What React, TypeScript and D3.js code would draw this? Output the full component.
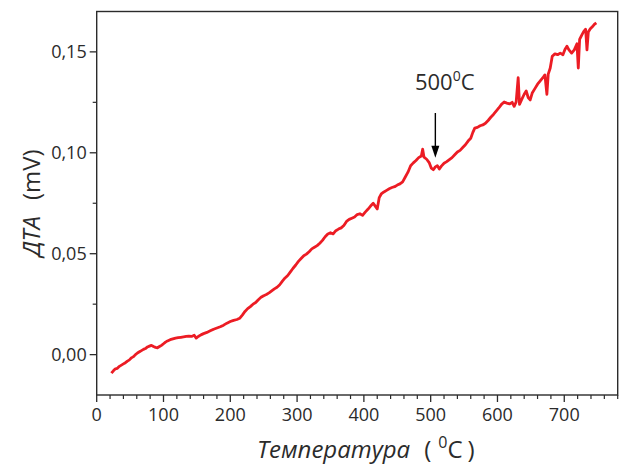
import React from "react";
import * as d3 from "d3";

// DTA curve
const temps = [
  22, 25, 28, 31, 34, 37, 40, 43, 46, 49, 52, 55, 58, 61, 64, 67, 70, 73, 76, 79,
  82, 85, 88, 91, 94, 97, 100, 103, 106, 110, 114, 118, 122, 126, 130, 134, 138, 142, 146, 149,
  152, 156, 160, 165, 170, 175, 180, 185, 190, 195, 200, 205, 210, 214, 218, 222, 226, 230, 234, 238,
  242, 246, 250, 254, 258, 262, 266, 270, 274, 278, 282, 286, 290, 294, 298, 302, 306, 310, 314, 318,
  322, 326, 330, 334, 338, 342, 346, 350, 354, 358, 362, 366, 370, 374, 378, 382, 386, 390, 394, 398,
  402, 406, 410, 414, 417, 420, 423, 426, 430, 434, 438, 442, 446, 450, 454, 458, 462, 466, 470, 474,
  478, 482, 486, 488, 490, 494, 498, 501, 504, 507, 510, 513, 516, 520, 524, 528, 532, 536, 540, 544,
  548, 552, 556, 560, 563, 566, 570, 574, 578, 582, 586, 590, 594, 598, 602, 606, 610, 614, 618, 622,
  625, 628, 631, 633, 636, 640, 643, 646, 649, 652, 656, 660, 664, 668, 671, 674, 676, 679, 682, 686,
  690, 694, 698, 701, 704, 707, 711, 715, 719, 721, 723, 726, 729, 732, 734, 736, 739, 742, 745, 748,
];
const dta = [
  -0.0092, -0.008, -0.007, -0.0068, -0.0058, -0.0052, -0.0046, -0.004, -0.0032, -0.0026,
  -0.0016, -0.001, 0.0, 0.0008, 0.0014, 0.002, 0.0026, 0.003, 0.0038, 0.0042,
  0.0046, 0.004, 0.0036, 0.0034, 0.004, 0.0046, 0.0054, 0.0062, 0.0068, 0.0074,
  0.0078, 0.0082, 0.0084, 0.0086, 0.0088, 0.009, 0.0092, 0.009, 0.0096, 0.0082,
  0.009, 0.0098, 0.0104, 0.011, 0.0118, 0.0126, 0.0132, 0.0138, 0.0146, 0.0156,
  0.0164, 0.017, 0.0174, 0.018, 0.0196, 0.0214, 0.0228, 0.0238, 0.025, 0.0258,
  0.0272, 0.0284, 0.0292, 0.0298, 0.0306, 0.0316, 0.0326, 0.0334, 0.0346, 0.0364,
  0.038, 0.0392, 0.041, 0.0428, 0.0444, 0.0462, 0.0476, 0.049, 0.0498, 0.051,
  0.0524, 0.0532, 0.054, 0.0552, 0.0566, 0.0584, 0.0598, 0.0604, 0.0598, 0.0614,
  0.0622, 0.0628, 0.064, 0.066, 0.067, 0.0676, 0.0682, 0.0694, 0.0698, 0.069,
  0.0706, 0.072, 0.0736, 0.075, 0.0736, 0.0722, 0.0778, 0.0796, 0.0806, 0.0814,
  0.0822, 0.0828, 0.0832, 0.084, 0.0846, 0.0856, 0.088, 0.0904, 0.0936, 0.095,
  0.0962, 0.0976, 0.0984, 0.1018, 0.0978, 0.0968, 0.095, 0.0924, 0.0916, 0.093,
  0.0936, 0.092, 0.0934, 0.0948, 0.0956, 0.0966, 0.0976, 0.099, 0.1004, 0.1012,
  0.1026, 0.104, 0.1058, 0.1072, 0.11, 0.1122, 0.1126, 0.1134, 0.1138, 0.1146,
  0.116, 0.1176, 0.119, 0.1206, 0.1222, 0.124, 0.1252, 0.1246, 0.1242, 0.125,
  0.123, 0.1252, 0.1372, 0.124, 0.1262, 0.129, 0.1306, 0.1274, 0.1262, 0.1296,
  0.1318, 0.134, 0.1356, 0.1372, 0.1386, 0.129, 0.139, 0.142, 0.1478, 0.149,
  0.1486, 0.1494, 0.1486, 0.1512, 0.1528, 0.151, 0.1494, 0.151, 0.154, 0.142,
  0.1562, 0.1582, 0.16, 0.1612, 0.151, 0.1598, 0.1614, 0.1624, 0.1636, 0.1644,
];

const xTicks = [0, 100, 200, 300, 400, 500, 600, 700];
const yTicks = [0, 0.05, 0.1, 0.15];
const peakTemp = 507;

const W = 625;
const H = 465;
const left = 96.7;
const right = 617.7;
const top = 11.5;
const bottom = 395;
const ink = "#2b2b2b";
const font = "'Open Sans', 'Noto Sans', sans-serif";

export default function App() {
  const x = d3.scaleLinear().domain([0, 780]).range([left, right]);
  const y = d3.scaleLinear().domain([-0.02, 0.17]).range([bottom, top]);

  const points = temps.map((t, i) => [t, dta[i]] as [number, number]);
  const line = d3
    .line<[number, number]>()
    .x((d) => x(d[0]))
    .y((d) => y(d[1]));

  const fmt = (v: number) => d3.format(".2f")(v).replace(".", ",");
  const xMinor = d3.range(0, 781, 20).filter((v) => v % 100 !== 0);
  const yMinor = [0.025, 0.075, 0.125];

  const ax = x(peakTemp);
  const a1 = y(0.1197);
  const a2 = y(0.0975);

  return (
    <svg
      width={W}
      height={H}
      style={{ position: "absolute", left: 0, top: 0, background: "#fff" }}
      fontFamily={font}
    >
      <path d={line(points) ?? ""} fill="none" stroke="#ec1c24" strokeWidth={2.8} strokeLinejoin="round" />

      {/* frame */}
      <rect x={left} y={top} width={right - left} height={bottom - top} fill="none" stroke={ink} strokeWidth={1.4} />

      {/* x ticks */}
      {xTicks.map((t) => (
        <g key={"x" + t}>
          <line x1={x(t)} x2={x(t)} y1={bottom} y2={bottom + 7} stroke={ink} strokeWidth={1.3} />
          <text x={x(t)} y={bottom + 26} fontSize={18} textAnchor="middle" fill={ink}>
            {t}
          </text>
        </g>
      ))}
      {xMinor.map((t) => (
        <line key={"xm" + t} x1={x(t)} x2={x(t)} y1={bottom} y2={bottom + 4} stroke={ink} strokeWidth={1.2} />
      ))}

      {/* y ticks */}
      {yTicks.map((t) => (
        <g key={"y" + t}>
          <line x1={left - 7} x2={left} y1={y(t)} y2={y(t)} stroke={ink} strokeWidth={1.3} />
          <text x={left - 10} y={y(t) + 6} fontSize={18} textAnchor="end" fill={ink}>
            {fmt(t)}
          </text>
        </g>
      ))}
      {yMinor.map((t) => (
        <line key={"ym" + t} x1={left - 4} x2={left} y1={y(t)} y2={y(t)} stroke={ink} strokeWidth={1.2} />
      ))}

      {/* annotation */}
      <line x1={ax} x2={ax} y1={a1} y2={a2 - 10} stroke="#000" strokeWidth={1.4} />
      <path d={`M${ax - 4},${a2 - 12} L${ax + 4},${a2 - 12} L${ax},${a2} Z`} fill="#000" />
      <text x={x(521)} y={90} fontSize={22} textAnchor="middle" fill={ink}>
        500
        <tspan fontSize={14} dy={-9}>0</tspan>
        <tspan dy={9}>C</tspan>
      </text>

      {/* axis titles */}
      <text x={257} y={458} fontSize={24} textAnchor="start" fill={ink}>
        <tspan fontStyle="italic">Температура</tspan>
        <tspan dx={14}>(</tspan>
        <tspan dx={7} fontSize={16} dy={-10}>0</tspan>
        <tspan dy={10}>C</tspan>
        <tspan dx={5}>)</tspan>
      </text>
      <text
        transform={`translate(40,203) rotate(-90)`}
        fontSize={24}
        textAnchor="middle"
        fill={ink}
      >
        <tspan fontStyle="italic">ДТА</tspan>
        <tspan dx={16}>(mV)</tspan>
      </text>
    </svg>
  );
}
